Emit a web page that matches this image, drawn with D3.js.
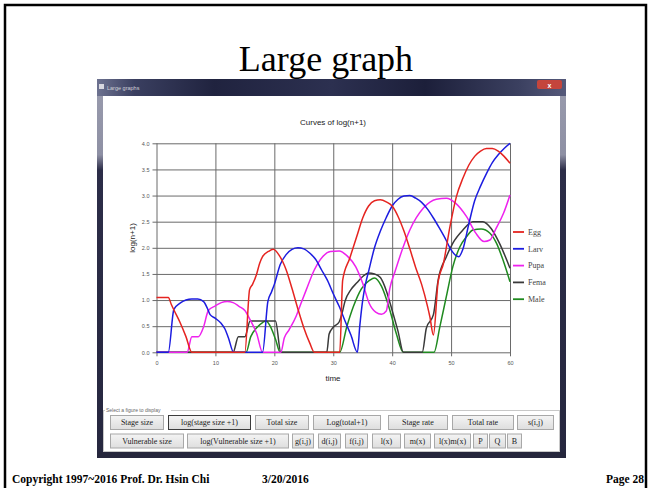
<!DOCTYPE html>
<html>
<head>
<meta charset="utf-8">
<script src="https://cdn.jsdelivr.net/npm/d3@7"></script>
<style>
  html, body { margin: 0; padding: 0; background: #fff; }
  svg { display: block; }
</style>
</head>
<body>
<svg id="slide" width="650" height="488"></svg>
<script>
// Stage-structured population: log(n+1) of each stage over time (days)
const stageNames = ["Egg", "Larv", "Pupa", "Fema", "Male"];
const stageColors = ["#e52420", "#1c1ce0", "#ee22ee", "#3a3a3a", "#1f8a1f"];

const egg = [[0,1.05],[1,1.05],[2,1.05],[2.5,0.92],[3,0.8],[4,0.57],[5,0.3],[6,0],[15,0],[15.8,1.2],[16.3,1.3],[17,1.5],[17.5,1.7],[18,1.83],[19,1.93],[19.8,1.97],[20.8,1.86],[22,1.58],[23,1.22],[24,0.83],[25,0.47],[26,0.18],[26.8,0],[31.1,0],[31.6,1.38],[32.8,1.8],[34,2.22],[35,2.57],[36,2.8],[37,2.9],[38,2.92],[39,2.88],[40,2.8],[41,2.6],[42,2.32],[43,1.98],[44,1.62],[45,1.3],[46,0.88],[46.4,0.68],[47,0.33],[47.8,1.35],[48.7,1.7],[49.8,2.4],[50.9,2.98],[52,3.33],[53,3.58],[54,3.75],[55,3.85],[56,3.9],[57,3.9],[58,3.85],[59,3.75],[60,3.62]];
const larv = [[0,0],[2,0],[2.95,0.82],[4,0.94],[5,1.0],[6,1.02],[7,1.02],[8,0.97],[8.6,0.85],[9.1,0.72],[10,0.65],[11,0.55],[11.6,0.45],[12.2,0.28],[13.1,0],[18,0],[18.9,0.97],[19.5,1.15],[20,1.3],[21,1.68],[22,1.87],[23,1.97],[24,2.0],[25,1.98],[26,1.9],[27,1.78],[28,1.58],[29,1.38],[30,1.12],[31,0.88],[32,0.6],[33,0.33],[34.1,0],[34.5,0.5],[35,1.0],[35.5,1.32],[36,1.55],[37,2.0],[38,2.32],[39,2.58],[40,2.8],[41,2.93],[42,2.99],[43,3.0],[44,2.95],[45,2.87],[46,2.74],[47,2.57],[48,2.38],[49,2.18],[50,1.96],[51,1.84],[51.3,1.83],[52,1.97],[53,2.45],[54,2.9],[55,3.18],[56,3.42],[57,3.63],[58,3.78],[59,3.9],[60,4.0]];
const pupa = [[0,0],[5.2,0],[6,0.3],[7.1,0.3],[8,0.49],[8.8,0.8],[10,0.89],[11,0.95],[12,0.97],[13,0.95],[14,0.88],[15,0.8],[15.9,0.62],[17,0.36],[18,0],[21.1,0],[21.7,0.28],[22.5,0.43],[23.7,0.69],[24.5,0.93],[25.4,1.19],[26.8,1.58],[28.2,1.83],[29.5,1.93],[31,1.94],[32.4,1.84],[33.8,1.64],[35,1.32],[36.1,0.94],[37.2,0.77],[38.2,0.73],[39,0.79],[39.6,1.22],[40.5,1.55],[41.3,1.83],[43,2.34],[45.3,2.76],[47.5,2.93],[49.2,2.95],[50.8,2.85],[52.6,2.6],[54.2,2.28],[55.6,2.12],[56.6,2.15],[57.5,2.34],[58.9,2.66],[60,3.01]];
const fema = [[0,0],[13,0],[13.9,0.3],[15,0.3],[15.9,0.6],[20.2,0.6],[21.1,0],[28.9,0],[29.3,0.35],[30,0.48],[31,0.58],[31.5,0.75],[32,0.98],[33,1.2],[34,1.33],[35,1.45],[36,1.52],[37,1.5],[38,1.43],[39,1.18],[40,0.8],[41,0.4],[41.9,0],[45.1,0],[45.8,0.46],[47,0.72],[47.8,1.38],[49.2,1.83],[50.3,2.09],[52,2.34],[53.7,2.5],[55.4,2.5],[56.8,2.37],[58.2,2.09],[60,1.61]];
const male = [[0,0],[15.2,0],[16,0.3],[17,0.47],[18,0.57],[18.6,0.6],[19.3,0.5],[20.2,0.25],[21,0],[31.1,0],[32.3,0.49],[33.4,0.87],[34.8,1.22],[36.2,1.38],[37,1.42],[38.2,1.26],[39.6,0.81],[40.7,0.36],[41.9,0],[47.1,0],[48.1,0.49],[49.2,1.07],[50.3,1.64],[51.5,2.02],[52.6,2.21],[53.7,2.34],[55.1,2.36],[56.6,2.28],[57.7,2.09],[58.8,1.77],[60,1.35]];

const xTicks = [0, 10, 20, 30, 40, 50, 60];
const yTicks = [0, 0.5, 1, 1.5, 2, 2.5, 3, 3.5, 4];

const buttonRow1 = ["Stage size", "log(stage size +1)", "Total size", "Log(total+1)", "Stage rate", "Total rate", "s(i,j)"];
const buttonRow2 = ["Vulnerable size", "log(Vulnerable size +1)", "g(i,j)", "d(i,j)", "f(i,j)", "l(x)", "m(x)", "l(x)m(x)", "P", "Q", "B"];
const activeButton = "log(stage size +1)";

const svg = d3.select("#slide");
const serif = "'Liberation Serif', 'Times New Roman', serif";
const sans = "'Liberation Sans', Arial, sans-serif";

// ---- slide frame, heading and footer ----
svg.append("rect").attr("x", 5).attr("y", 5).attr("width", 641).attr("height", 500)
  .attr("fill", "#fff").attr("stroke", "#000").attr("stroke-width", 2.5);

svg.append("text").attr("x", 326).attr("y", 71).attr("text-anchor", "middle")
  .attr("font-family", serif).attr("font-size", 36).attr("fill", "#000").text("Large graph");

const foot = svg.append("g").attr("font-family", serif).attr("font-size", 11.5)
  .attr("font-weight", "bold").attr("fill", "#000");
foot.append("text").attr("x", 12).attr("y", 483).text("Copyright 1997~2016 Prof. Dr. Hsin Chi");
foot.append("text").attr("x", 262).attr("y", 483).text("3/20/2016");
foot.append("text").attr("x", 644).attr("y", 483).attr("text-anchor", "end").text("Page 28");

// ---- application window ----
const defs = svg.append("defs");
const tg = defs.append("linearGradient").attr("id", "titleGrad").attr("x1", 0).attr("x2", 1).attr("y1", 0).attr("y2", 0);
[[0, "#6d7290"], [0.08, "#3a3f60"], [0.25, "#20233f"], [0.5, "#2c3050"], [0.7, "#1c1f3a"], [0.9, "#3b4060"], [1, "#55597a"]]
  .forEach(([o, c]) => tg.append("stop").attr("offset", o).attr("stop-color", c));
const sg = defs.append("linearGradient").attr("id", "sideGrad").attr("x1", 0).attr("x2", 0).attr("y1", 0).attr("y2", 1);
[[0, "#9a9cae"], [0.2, "#8e90a4"], [0.24, "#2c2d48"], [1, "#26273f"]]
  .forEach(([o, c]) => sg.append("stop").attr("offset", o).attr("stop-color", c));
const bg = defs.append("linearGradient").attr("id", "btnGrad").attr("x1", 0).attr("x2", 0).attr("y1", 0).attr("y2", 1);
[[0, "#f4f4f4"], [1, "#dedede"]].forEach(([o, c]) => bg.append("stop").attr("offset", o).attr("stop-color", c));

const win = svg.append("g");
win.append("rect").attr("x", 97).attr("y", 79).attr("width", 469).attr("height", 379).attr("fill", "url(#sideGrad)");
win.append("rect").attr("x", 97).attr("y", 79).attr("width", 469).attr("height", 17).attr("fill", "url(#titleGrad)");
win.append("rect").attr("x", 97).attr("y", 452).attr("width", 469).attr("height", 6).attr("fill", "#25263c");
win.append("rect").attr("x", 103).attr("y", 96).attr("width", 457).attr("height", 356).attr("fill", "#fff");
win.append("rect").attr("x", 99).attr("y", 84).attr("width", 5).attr("height", 5).attr("fill", "#d8d8e0");
win.append("text").attr("x", 107).attr("y", 90).attr("font-family", sans).attr("font-size", 5.5)
  .attr("fill", "#d0d0d8").text("Large graphs");
win.append("rect").attr("x", 537).attr("y", 80).attr("width", 25).attr("height", 9).attr("rx", 2)
  .attr("fill", "#c4453c");
win.append("text").attr("x", 549.5).attr("y", 87.5).attr("text-anchor", "middle").attr("font-family", sans)
  .attr("font-size", 7).attr("font-weight", "bold").attr("fill", "#fff").text("x");

// ---- chart ----
const x = d3.scaleLinear().domain([0, 60]).range([156.5, 510]);
const y = d3.scaleLinear().domain([0, 4]).range([352.3, 143.3]);
const plotW = x(60) - x(0), plotH = y(0) - y(4);

const chart = svg.append("g");

chart.append("text").attr("x", 333).attr("y", 125).attr("text-anchor", "middle")
  .attr("font-family", sans).attr("font-size", 8).attr("fill", "#222").text("Curves of log(n+1)");

const yAxis = chart.append("g").attr("transform", `translate(${x(0) - 4},0)`)
  .call(d3.axisLeft(y).tickValues(yTicks).tickSize(-(plotW + 4)).tickPadding(3).tickFormat(d3.format(".1f")));
const xAxis = chart.append("g").attr("transform", `translate(0,${y(0) + 4})`)
  .call(d3.axisBottom(x).tickValues(xTicks).tickSize(-(plotH + 4)).tickPadding(5));
[yAxis, xAxis].forEach(g => {
  g.select(".domain").remove();
  g.selectAll(".tick line").attr("stroke", "#6a6a6a").attr("stroke-width", 1);
  g.selectAll(".tick text").attr("font-family", sans).attr("font-size", 5.5).attr("fill", "#555");
});

chart.append("text").attr("x", 333).attr("y", 381).attr("text-anchor", "middle")
  .attr("font-family", sans).attr("font-size", 8).attr("fill", "#222").text("time");
chart.append("text").attr("transform", "translate(135,238) rotate(-90)").attr("text-anchor", "middle")
  .attr("font-family", sans).attr("font-size", 8).attr("fill", "#222").text("log(n+1)");

const seriesData = [egg, larv, pupa, fema, male];
const line = d3.line().x(d => x(d[0])).y(d => y(d[1])).curve(d3.curveMonotoneX);

// later stages first so the egg curve sits on top
const order = [4, 3, 2, 1, 0];
chart.append("g").selectAll("path").data(order).join("path")
  .attr("d", i => line(seriesData[i]))
  .attr("fill", "none")
  .attr("stroke", i => stageColors[i])
  .attr("stroke-width", 1.5)
  .attr("stroke-linejoin", "round");

const legend = chart.append("g").selectAll("g").data(stageNames).join("g")
  .attr("transform", (d, i) => `translate(513,${232 + i * 16.8})`);
legend.append("line").attr("x1", 0).attr("x2", 11).attr("y1", 0).attr("y2", 0)
  .attr("stroke", (d, i) => stageColors[i]).attr("stroke-width", 1.8);
legend.append("text").attr("x", 15).attr("y", 2.8).attr("font-family", serif).attr("font-size", 8)
  .attr("fill", "#444").text(d => d);

// ---- figure selector buttons ----
const panel = svg.append("g");
panel.append("rect").attr("x", 103.5).attr("y", 410.5).attr("width", 456).attr("height", 41)
  .attr("fill", "none").attr("stroke", "#c8c8c8");
panel.append("rect").attr("x", 105).attr("y", 406).attr("width", 66).attr("height", 7).attr("fill", "#fff");
panel.append("text").attr("x", 106).attr("y", 411.5).attr("font-family", sans).attr("font-size", 5)
  .attr("fill", "#666").text("Select a figure to display");

const row1X = [[110, 163], [168, 250], [255, 308], [313, 380], [388, 447], [452, 513], [517, 553]];
const row2X = [[110, 183], [187, 288], [292, 313], [318, 340], [345, 367], [372, 400], [404, 430], [434, 470], [473, 487], [489, 505], [507, 521]];
function drawRow(labels, spans, top) {
  const b = panel.append("g").selectAll("g").data(labels).join("g");
  b.append("rect")
    .attr("x", (d, i) => spans[i][0] + 0.5).attr("y", top + 0.5)
    .attr("width", (d, i) => spans[i][1] - spans[i][0]).attr("height", 14)
    .attr("fill", "url(#btnGrad)")
    .attr("stroke", d => d === activeButton ? "#3c3c3c" : "#a8a8a8");
  b.append("text")
    .attr("x", (d, i) => (spans[i][0] + spans[i][1]) / 2 + 0.5).attr("y", top + 10)
    .attr("text-anchor", "middle").attr("font-family", serif).attr("font-size", 8)
    .attr("fill", "#222").text(d => d);
}
drawRow(buttonRow1, row1X, 415);
drawRow(buttonRow2, row2X, 433.5);
</script>
</body>
</html>
